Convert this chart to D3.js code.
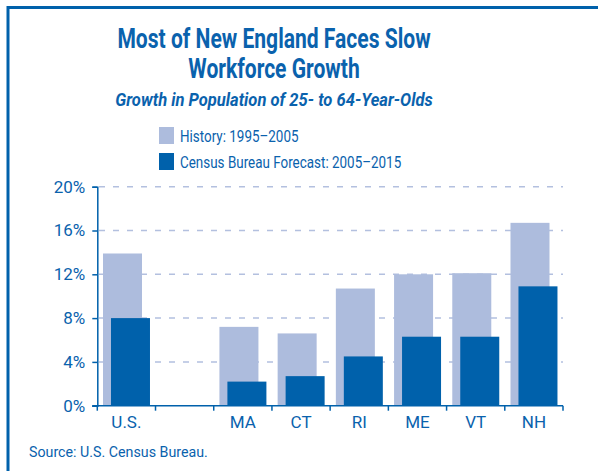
<!DOCTYPE html>
<html>
<head>
<meta charset="utf-8">
<script src="https://cdn.jsdelivr.net/npm/d3@7"></script>
<style>
  html, body { margin: 0; padding: 0; background: #fff; }
  svg { display: block; font-family: "Roboto", "Liberation Sans", sans-serif; }
</style>
</head>
<body>
<div id="chart"></div>
<script>
// categories (the empty one is the gap after U.S.)
const categories = ["U.S.", "", "MA", "CT", "RI", "ME", "VT", "NH"];
// growth in %, history 1995-2005
const history = [13.9, null, 7.2, 6.6, 10.7, 12.0, 12.1, 16.7];
// census forecast 2005-2015
const forecast = [8.0, null, 2.2, 2.7, 4.5, 6.3, 6.3, 10.9];
const yTicks = [0, 4, 8, 12, 16, 20];

const width = 598, height = 471;
const blue = "#0a62ad";
const light = "#adbcdd";
const dark = "#0061ab";

const svg = d3.select("#chart").append("svg")
  .attr("width", width)
  .attr("height", height);

// no condensed font available, so squeeze text horizontally
function label(x, y, str, size, k, opts = {}) {
  const g = svg.append("g").attr("transform", `translate(${x},${y}) scale(${k},1)`);
  return g.append("text")
    .attr("text-anchor", opts.anchor || "start")
    .attr("font-weight", opts.bold ? "bold" : null)
    .attr("font-style", opts.italic ? "italic" : null)
    .attr("font-size", size)
    .attr("fill", blue)
    .text(str);
}

// frame (top + left only)
svg.append("line").attr("x1", 7).attr("x2", width).attr("y1", 7.5).attr("y2", 7.5)
  .attr("stroke", dark).attr("stroke-width", 3);
svg.append("line").attr("x1", 8).attr("x2", 8).attr("y1", 6).attr("y2", height)
  .attr("stroke", dark).attr("stroke-width", 3);

// titles
const cx = 274;
label(cx, 48, "Most of New England Faces Slow", 27, 0.78, { anchor: "middle", bold: true });
label(cx, 78, "Workforce Growth", 27, 0.78, { anchor: "middle", bold: true });
label(cx, 106, "Growth in Population of 25- to 64-Year-Olds", 18, 0.92, { anchor: "middle", bold: true, italic: true });

// legend
const legend = [
  { label: "History: 1995\u20132005", color: light },
  { label: "Census Bureau Forecast: 2005\u20132015", color: dark }
];
legend.forEach((d, i) => {
  svg.append("rect").attr("x", 159).attr("y", 127 + i * 26)
    .attr("width", 15).attr("height", 17).attr("fill", d.color);
  label(180, 142 + i * 26, d.label, 16, 0.84);
});

// scales
const x = d3.scaleBand().domain(categories).range([97.3, 563]).padding(0);
const y = d3.scaleLinear().domain([0, 20]).range([405.7, 186.7]);
const bw = x.bandwidth();

// gridlines
svg.append("g").selectAll("line").data(yTicks.filter(t => t > 0)).join("line")
  .attr("x1", 99).attr("x2", 563)
  .attr("y1", d => y(d)).attr("y2", d => y(d))
  .attr("stroke", "#b3c0df").attr("stroke-width", 1.5)
  .attr("stroke-dasharray", "6,8");

// bars
const rows = categories.map((c, i) => ({ c, h: history[i], f: forecast[i] })).filter(d => d.h != null);
svg.append("g").selectAll("rect").data(rows).join("rect")
  .attr("x", d => x(d.c) + bw * 0.098)
  .attr("y", d => y(d.h))
  .attr("width", bw * 0.67)
  .attr("height", d => y(0) - y(d.h))
  .attr("fill", light);
svg.append("g").selectAll("rect").data(rows).join("rect")
  .attr("x", d => x(d.c) + bw * 0.235)
  .attr("y", d => y(d.f))
  .attr("width", bw * 0.67)
  .attr("height", d => y(0) - y(d.f))
  .attr("fill", dark);

// y axis
const yAxis = svg.append("g").attr("transform", "translate(97.3,0)")
  .call(d3.axisLeft(y).tickValues(yTicks).tickSize(5).tickPadding(7).tickFormat(d => d + "%"));
yAxis.select(".domain").attr("stroke", dark).attr("stroke-width", 1.5);
yAxis.selectAll(".tick line").attr("stroke", dark).attr("stroke-width", 1.5);
yAxis.selectAll("text").attr("fill", blue).attr("font-size", 17)
  .attr("font-family", "Roboto, sans-serif");

// x axis: labels at band centres, ticks on band boundaries
const xAxis = svg.append("g").attr("transform", `translate(0,${y(0)})`)
  .call(d3.axisBottom(x).tickSize(0).tickPadding(10));
xAxis.select(".domain").remove();
xAxis.selectAll("text").attr("fill", blue).attr("font-size", 17)
  .attr("font-family", "Roboto, sans-serif");
svg.append("line").attr("x1", x.range()[0] - 5).attr("x2", x.range()[1])
  .attr("y1", y(0)).attr("y2", y(0)).attr("stroke", dark).attr("stroke-width", 1.5);
const bounds = categories.map(c => x(c)).concat([x.range()[1]]);
svg.append("g").selectAll("line").data(bounds).join("line")
  .attr("x1", d => d).attr("x2", d => d)
  .attr("y1", y(0)).attr("y2", y(0) + 5)
  .attr("stroke", dark).attr("stroke-width", 1.5);

// source
label(29, 457, "Source: U.S. Census Bureau.", 15, 0.95);
</script>
</body>
</html>
